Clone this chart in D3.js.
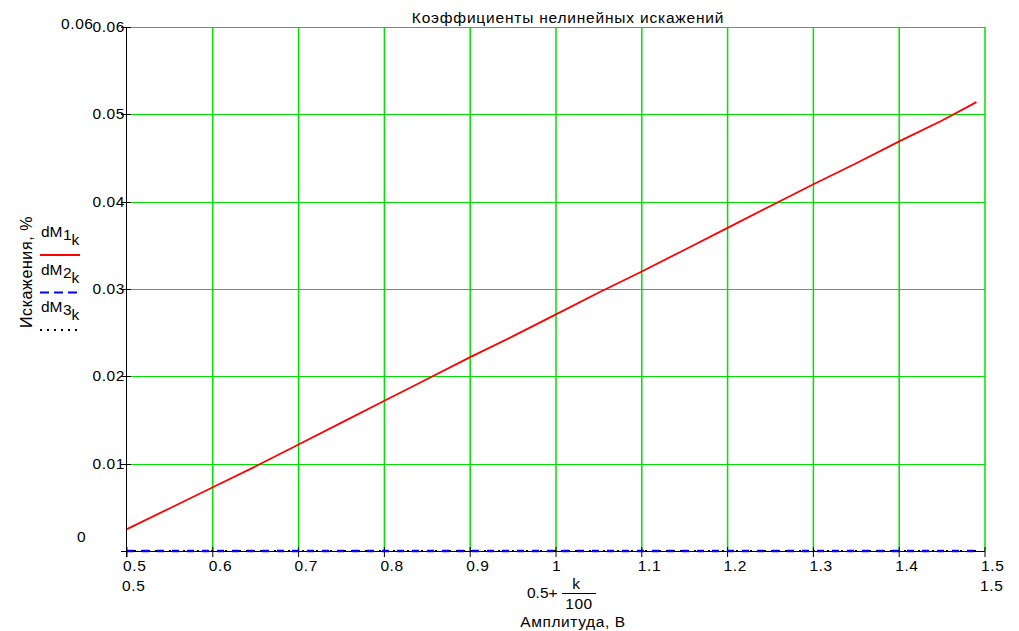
<!DOCTYPE html>
<html>
<head>
<meta charset="utf-8">
<script src="https://cdn.jsdelivr.net/npm/d3@7"></script>
<style>
  body { margin: 0; background: #fff; }
  text { font-family: "Liberation Sans", Arial, sans-serif; fill: #000; }
</style>
</head>
<body>
<div id="chart"></div>
<script>
// amplitude values 0.5 + k/100 (sampled)
var amplitude = [0.50, 0.55, 0.60, 0.65, 0.70, 0.75, 0.80, 0.85, 0.90, 0.95, 1.00,
                 1.05, 1.10, 1.15, 1.20, 1.25, 1.30, 1.35, 1.40, 1.45, 1.49];
var dM1 = [0.0025, 0.0049, 0.0073, 0.0097, 0.0122, 0.0147, 0.0172, 0.0197, 0.0222, 0.0246, 0.0271,
           0.0296, 0.0320, 0.0345, 0.0370, 0.0395, 0.0420, 0.0444, 0.0469, 0.0493, 0.0514];
var dM2 = [0, 0, 0, 0, 0, 0, 0, 0, 0, 0, 0, 0, 0, 0, 0, 0, 0, 0, 0, 0, 0];
var dM3 = [0, 0, 0, 0, 0, 0, 0, 0, 0, 0, 0, 0, 0, 0, 0, 0, 0, 0, 0, 0, 0];
var xTicks = [0.5, 0.6, 0.7, 0.8, 0.9, 1, 1.1, 1.2, 1.3, 1.4, 1.5];
var yTicks = [0.01, 0.02, 0.03, 0.04, 0.05, 0.06];

var width = 1019, height = 631;
var fs = 15.5;

var svg = d3.select('#chart').append('svg')
    .attr('width', width)
    .attr('height', height);

var x = d3.scaleLinear().domain([0.5, 1.5]).range([127, 985]);
var y = d3.scaleLinear().domain([0, 0.06]).range([551, 27]);

// grid
svg.selectAll('.vgrid')
    .data(xTicks.slice(1))
    .enter().append('line')
    .attr('x1', function (d) { return x(d); })
    .attr('x2', function (d) { return x(d); })
    .attr('y1', y(0))
    .attr('y2', y(0.06))
    .attr('stroke', '#00e000')
    .attr('stroke-width', 1.5);

svg.selectAll('.hgrid')
    .data(yTicks)
    .enter().append('line')
    .attr('x1', x(0.5))
    .attr('x2', x(1.5))
    .attr('y1', function (d) { return Math.round(y(d)) + 0.5; })
    .attr('y2', function (d) { return Math.round(y(d)) + 0.5; })
    .attr('stroke', '#00e000')
    .attr('stroke-width', 1);

// axes
svg.append('line')
    .attr('x1', x(0.5) - 0.5).attr('x2', x(0.5) - 0.5)
    .attr('y1', y(0.06)).attr('y2', y(0) + 6)
    .attr('stroke', '#000');
svg.append('line')
    .attr('x1', x(0.5) - 6).attr('x2', x(1.5))
    .attr('y1', y(0) + 0.5).attr('y2', y(0) + 0.5)
    .attr('stroke', '#000');

svg.selectAll('.xtick')
    .data(xTicks)
    .enter().append('line')
    .attr('x1', function (d) { return x(d); })
    .attr('x2', function (d) { return x(d); })
    .attr('y1', y(0) - 4)
    .attr('y2', y(0) + 6)
    .attr('stroke', '#000');

svg.selectAll('.ytick')
    .data(yTicks)
    .enter().append('line')
    .attr('x1', x(0.5) - 6)
    .attr('x2', x(0.5) + 4)
    .attr('y1', function (d) { return Math.round(y(d)) + 0.5; })
    .attr('y2', function (d) { return Math.round(y(d)) + 0.5; })
    .attr('stroke', '#000');

// tick labels
svg.selectAll('.xlabel')
    .data(xTicks)
    .enter().append('text')
    .attr('x', function (d) { return x(d) - 4; })
    .attr('y', 571)
    .attr('font-size', fs)
    .attr('letter-spacing', 0.6)
    .text(function (d) { return d3.format('~g')(d); });

svg.selectAll('.ylabel')
    .data(yTicks)
    .enter().append('text')
    .attr('x', x(0.5) - 2)
    .attr('y', function (d) { return y(d) + 5; })
    .attr('text-anchor', 'end')
    .attr('font-size', fs)
    .attr('letter-spacing', 0.6)
    .text(function (d) { return d3.format('~g')(d); });

// axis limit labels
svg.append('text').attr('x', 61).attr('y', 29).attr('font-size', fs).attr('letter-spacing', 0.6).text('0.06');
svg.append('text').attr('x', 77).attr('y', 542).attr('font-size', fs).text('0');
svg.append('text').attr('x', 122).attr('y', 591).attr('font-size', fs).attr('letter-spacing', 0.6).text('0.5');
svg.append('text').attr('x', 980).attr('y', 591).attr('font-size', fs).attr('letter-spacing', 0.6).text('1.5');

// series
var line = d3.line()
    .x(function (d) { return x(d[0]); })
    .y(function (d) { return y(d[1]); });

svg.append('path')
    .datum(d3.zip(amplitude, dM3))
    .attr('d', line)
    .attr('fill', 'none')
    .attr('stroke', '#000')
    .attr('stroke-width', 2)
    .attr('stroke-dasharray', '2,5');

svg.append('path')
    .datum(d3.zip(amplitude, dM2))
    .attr('d', line)
    .attr('fill', 'none')
    .attr('stroke', '#0000ff')
    .attr('stroke-width', 2.5)
    .attr('stroke-dasharray', '7,8');

svg.append('path')
    .datum(d3.zip(amplitude, dM1))
    .attr('d', line)
    .attr('fill', 'none')
    .attr('stroke', '#ff0000')
    .attr('stroke-width', 1.8);

// title
svg.append('text')
    .attr('x', 568).attr('y', 23)
    .attr('text-anchor', 'middle')
    .attr('font-size', fs)
    .attr('letter-spacing', 0.8)
    .text('Коэффициенты нелинейных искажений');

// x axis title
svg.append('text').attr('x', 527).attr('y', 598).attr('font-size', fs).text('0.5+');
svg.append('text').attr('x', 576).attr('y', 589).attr('text-anchor', 'middle').attr('font-size', fs).text('k');
svg.append('line').attr('x1', 562).attr('x2', 596).attr('y1', 593.5).attr('y2', 593.5).attr('stroke', '#000');
svg.append('text').attr('x', 579).attr('y', 609).attr('text-anchor', 'middle').attr('font-size', fs).attr('letter-spacing', 0.6).text('100');
svg.append('text')
    .attr('x', 573).attr('y', 627)
    .attr('text-anchor', 'middle')
    .attr('font-size', fs)
    .attr('letter-spacing', 0.6)
    .text('Амплитуда, В');

// y axis title
svg.append('text')
    .attr('transform', 'translate(32,272) rotate(-90)')
    .attr('text-anchor', 'middle')
    .attr('font-size', 16)
    .attr('letter-spacing', 0.6)
    .text('Искажения, %');

// legend
var legendNames = ['1', '2', '3'];
var legendColors = ['#ff0000', '#0000ff', '#000'];
var legendDash = [null, '9,5', '2,5'];
var legend = svg.selectAll('.legend')
    .data(legendNames)
    .enter().append('g')
    .attr('transform', function (d, i) { return 'translate(40,' + (237 + i * 37.5) + ')'; });

legend.append('text')
    .attr('x', 1).attr('y', 0)
    .attr('font-size', fs)
    .text('dM');
legend.append('text')
    .attr('x', 23).attr('y', 3)
    .attr('font-size', fs)
    .text(function (d) { return d; });
legend.append('text')
    .attr('x', 31.5).attr('y', 8)
    .attr('font-size', fs)
    .text('k');

legend.append('line')
    .attr('x1', 0).attr('x2', 40)
    .attr('y1', 18).attr('y2', 18)
    .attr('stroke', function (d, i) { return legendColors[i]; })
    .attr('stroke-width', 2)
    .attr('stroke-dasharray', function (d, i) { return legendDash[i]; });
</script>
</body>
</html>
